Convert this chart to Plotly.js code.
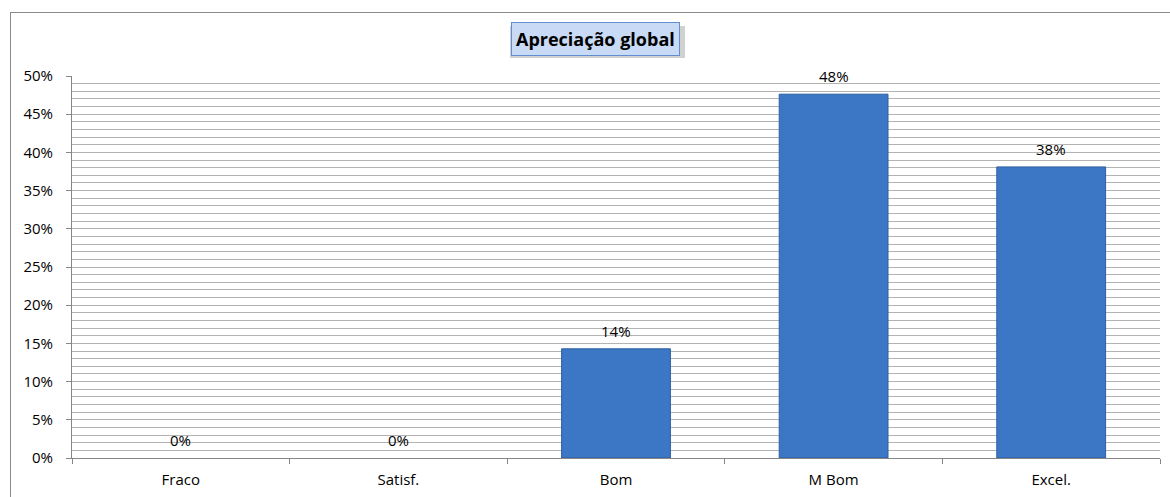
<!DOCTYPE html>
<html>
<head>
<meta charset="utf-8">
<script src="https://cdn.plot.ly/plotly-3.0.1.min.js"></script>
<style>
  html, body { margin:0; padding:0; background:#ffffff; overflow:hidden; }
  #wrap { position:relative; width:1170px; height:497px; }
  #chart { position:absolute; left:0; top:0; width:1170px; height:497px; }
  #frame { position:absolute; left:10px; top:12px; width:1200px; height:600px;
           border:1px solid #8a8a8a; box-sizing:border-box; pointer-events:none; }
</style>
</head>
<body>
<div id="wrap">
  <div id="chart"></div>
  <div id="frame"></div>
</div>
<script>
const categories = ["Fraco", "Satisf.", "Bom", "M Bom", "Excel."];
const values = [0, 0, 0.1429, 0.4762, 0.3810];
const yTickVals = [0, 0.05, 0.10, 0.15, 0.20, 0.25, 0.30, 0.35, 0.40, 0.45, 0.50];
const yTickText = ["0%", "5%", "10%", "15%", "20%", "25%", "30%", "35%", "40%", "45%", "50%"];
const chartTitle = "Apreciação global";

const FONT = "'Open Sans', Lato, sans-serif";

const trace = {
  type: "bar",
  x: categories,
  y: values,
  width: 0.5,
  marker: {
    color: "#3b77c4",
    line: { color: "#2d5f9f", width: values.map(v => (v > 0 ? 1 : 0)) }
  },
  hoverinfo: "skip"
};

const labelAnnotations = categories.map((c, i) => ({
  x: c, y: values[i], xref: "x", yref: "y",
  text: Math.round(values[i] * 100) + "%",
  showarrow: false, yanchor: "middle", yshift: 18,
  font: { family: FONT, size: 15, color: "#000000" }
}));

// title box: centre at (595, 39.5) px in the 1170x497 figure
const titleAnnotation = {
  xref: "paper", yref: "paper",
  x: (595 - 72) / 1088, y: (458 - 39.5) / 382,
  xanchor: "center", yanchor: "middle",
  text: "<b>" + chartTitle + "</b>", showarrow: false,
  bgcolor: "#c8daf5", bordercolor: "#5f8fd0", borderwidth: 1, borderpad: 4,
  font: { family: FONT, size: 18, color: "#000000" }
};

const layout = {
  width: 1170, height: 497,
  margin: { l: 72, r: 10, t: 76, b: 39, pad: 0 },
  paper_bgcolor: "#ffffff", plot_bgcolor: "#ffffff",
  showlegend: false,
  bargap: 0.5,
  xaxis: {
    type: "category",
    showline: true, linecolor: "#868686", linewidth: 1,
    ticks: "outside", tickson: "boundaries", ticklen: 5, tickcolor: "#868686",
    showgrid: false, zeroline: false,
    tickfont: { family: FONT, size: 15, color: "#000000" },
    ticklabelstandoff: 8, fixedrange: true
  },
  yaxis: {
    range: [0, 0.5],
    tickmode: "array", tickvals: yTickVals, ticktext: yTickText,
    showline: true, linecolor: "#868686", linewidth: 1,
    ticks: "outside", ticklen: 5, tickcolor: "#868686",
    showgrid: true, gridcolor: "#b3b3b3", gridwidth: 1,
    minor: { dtick: 0.01, showgrid: true, gridcolor: "#b3b3b3", gridwidth: 1, ticks: "" },
    zeroline: false,
    tickfont: { family: FONT, size: 15, color: "#000000" },
    ticklabelstandoff: 10, fixedrange: true
  },
  annotations: labelAnnotations.concat([titleAnnotation]),
  shapes: [{
    type: "rect", xref: "paper", yref: "paper", layer: "below",
    x0: (510 - 72) / 1088, x1: (685 - 72) / 1088,
    y0: (458 - 58) / 382, y1: (458 - 26) / 382,
    fillcolor: "rgba(0,0,0,0.18)", line: { width: 0 }
  }]
};

Plotly.newPlot("chart", [trace], layout, { displayModeBar: false, staticPlot: true });
</script>
</body>
</html>
